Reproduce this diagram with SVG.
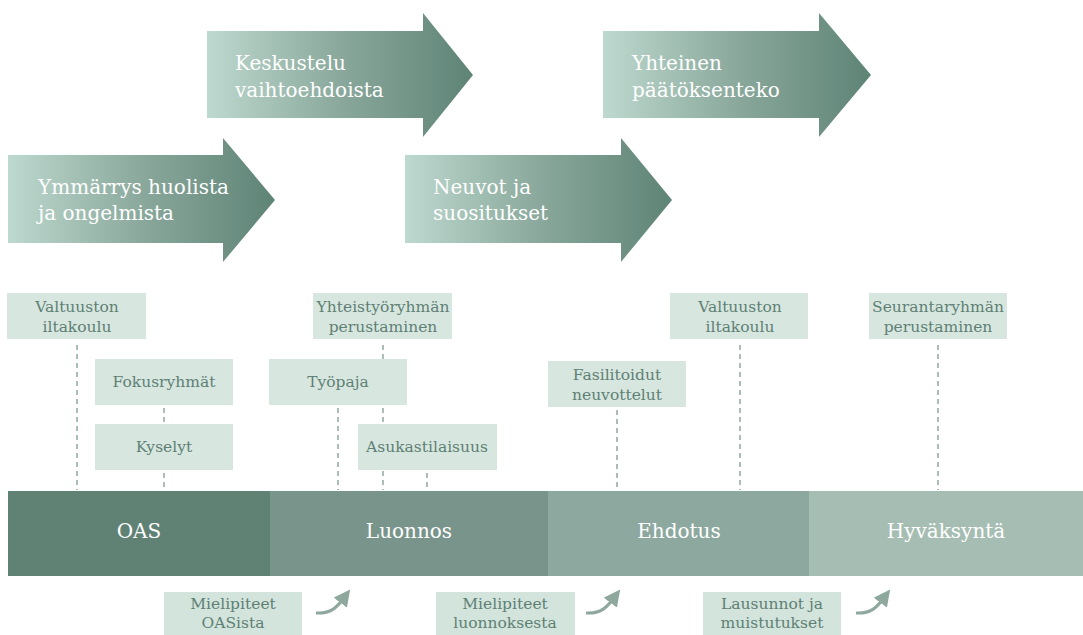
<svg xmlns="http://www.w3.org/2000/svg" width="1083" height="635" viewBox="0 0 1083 635">
<defs>
<linearGradient id="ag" x1="0" y1="0" x2="1" y2="0">
<stop offset="0" stop-color="#bed9cf"/>
<stop offset="0.5" stop-color="#8aa89c"/>
<stop offset="1" stop-color="#5e8476"/>
</linearGradient>
<marker id="ah" markerWidth="5.5" markerHeight="5.5" refX="1.5" refY="2.75" orient="auto" markerUnits="strokeWidth">
<path d="M0,0 L5.5,2.75 L0,5.5 z" fill="#8fa89e"/>
</marker>
<style>
.at{font-family:"DejaVu Serif","Liberation Serif",serif;font-size:20px;fill:#ffffff}
.bx{fill:#d7e7e0}
.bb{fill:#d2e4dc}
.bt{font-family:"DejaVu Serif","Liberation Serif",serif;font-size:15.5px;fill:#5f8074;text-anchor:middle}
.pt{font-family:"DejaVu Serif","Liberation Serif",serif;font-size:20px;fill:#ffffff;text-anchor:middle}
.dl{stroke:#8fa89e;stroke-width:1.5;stroke-dasharray:5 4;fill:none}
.ca{stroke:#8fa89e;stroke-width:3;fill:none;marker-end:url(#ah)}
</style>
</defs>

<g id="connectors">
<line class="dl" x1="77" y1="345" x2="77" y2="490"/>
<line class="dl" x1="164" y1="408" x2="164" y2="424"/>
<line class="dl" x1="164" y1="473" x2="164" y2="490"/>
<line class="dl" x1="383" y1="345" x2="383" y2="490"/>
<line class="dl" x1="338" y1="408" x2="338" y2="490"/>
<line class="dl" x1="427" y1="473" x2="427" y2="490"/>
<line class="dl" x1="617" y1="410" x2="617" y2="490"/>
<line class="dl" x1="740" y1="345" x2="740" y2="490"/>
<line class="dl" x1="938" y1="345" x2="938" y2="490"/>
<path class="ca" d="M316,613 C331,614 337,607 343,599"/>
<path class="ca" d="M586,613 C601,614 607,607 613,599"/>
<path class="ca" d="M856,613 C871,614 877,607 883,599"/>
</g>

<g id="arrow-ymmarrys">
<path d="M8,155 H223 V138 L275,200 L223,262 V243 H8 Z" fill="url(#ag)"/>
<text class="at" x="38" y="194">Ymmärrys huolista</text>
<text class="at" x="38" y="220">ja ongelmista</text>
</g>
<g id="arrow-keskustelu">
<path d="M207,31 H423 V13 L473,75 L423,137 V118 H207 Z" fill="url(#ag)"/>
<text class="at" x="235" y="70">Keskustelu</text>
<text class="at" x="235" y="97">vaihtoehdoista</text>
</g>
<g id="arrow-neuvot">
<path d="M405,155 H621 V138 L672,200 L621,262 V243 H405 Z" fill="url(#ag)"/>
<text class="at" x="433" y="194">Neuvot ja</text>
<text class="at" x="433" y="220">suositukset</text>
</g>
<g id="arrow-yhteinen">
<path d="M603,31 H819 V13 L871,75 L819,137 V118 H603 Z" fill="url(#ag)"/>
<text class="at" x="632" y="70">Yhteinen</text>
<text class="at" x="632" y="97">päätöksenteko</text>
</g>

<g id="n-valtuusto1"><rect class="bx" x="7" y="293" width="139" height="46"/><text class="bt" x="77" y="312">Valtuuston</text><text class="bt" x="77" y="332">iltakoulu</text></g>
<g id="n-fokus"><rect class="bx" x="95" y="359" width="138" height="46"/><text class="bt" x="164" y="387">Fokusryhmät</text></g>
<g id="n-kyselyt"><rect class="bx" x="95" y="424" width="138" height="46"/><text class="bt" x="164" y="452">Kyselyt</text></g>
<g id="n-yhteistyo"><rect class="bx" x="313" y="293" width="139" height="46"/><text class="bt" x="383" y="312">Yhteistyöryhmän</text><text class="bt" x="383" y="332">perustaminen</text></g>
<g id="n-tyopaja"><rect class="bx" x="269" y="359" width="138" height="46"/><text class="bt" x="338" y="387">Työpaja</text></g>
<g id="n-asukas"><rect class="bx" x="358" y="424" width="139" height="46"/><text class="bt" x="427" y="452">Asukastilaisuus</text></g>
<g id="n-fasilitoidut"><rect class="bx" x="548" y="361" width="138" height="46"/><text class="bt" x="617" y="380">Fasilitoidut</text><text class="bt" x="617" y="400">neuvottelut</text></g>
<g id="n-valtuusto2"><rect class="bx" x="670" y="293" width="138" height="46"/><text class="bt" x="740" y="312">Valtuuston</text><text class="bt" x="740" y="332">iltakoulu</text></g>
<g id="n-seuranta"><rect class="bx" x="869" y="293" width="138" height="46"/><text class="bt" x="938" y="312">Seurantaryhmän</text><text class="bt" x="938" y="332">perustaminen</text></g>

<g id="phase-oas"><rect x="8" y="491" width="262" height="85" fill="#608275"/><text class="pt" x="139" y="538">OAS</text></g>
<g id="phase-luonnos"><rect x="270" y="491" width="278" height="85" fill="#79958b"/><text class="pt" x="409" y="538">Luonnos</text></g>
<g id="phase-ehdotus"><rect x="548" y="491" width="261" height="85" fill="#8da99f"/><text class="pt" x="679" y="538">Ehdotus</text></g>
<g id="phase-hyvaksynta"><rect x="809" y="491" width="274" height="85" fill="#a6bdb3"/><text class="pt" x="946" y="538">Hyväksyntä</text></g>

<g id="n-mielipiteet-oas"><rect class="bb" x="164" y="592" width="138" height="50"/><text class="bt" x="233" y="609">Mielipiteet</text><text class="bt" x="233" y="628">OASista</text></g>
<g id="n-mielipiteet-luonnos"><rect class="bb" x="436" y="592" width="139" height="50"/><text class="bt" x="505" y="609">Mielipiteet</text><text class="bt" x="505" y="628">luonnoksesta</text></g>
<g id="n-lausunnot"><rect class="bb" x="703" y="592" width="138" height="50"/><text class="bt" x="772" y="609">Lausunnot ja</text><text class="bt" x="772" y="628">muistutukset</text></g>
</svg>
